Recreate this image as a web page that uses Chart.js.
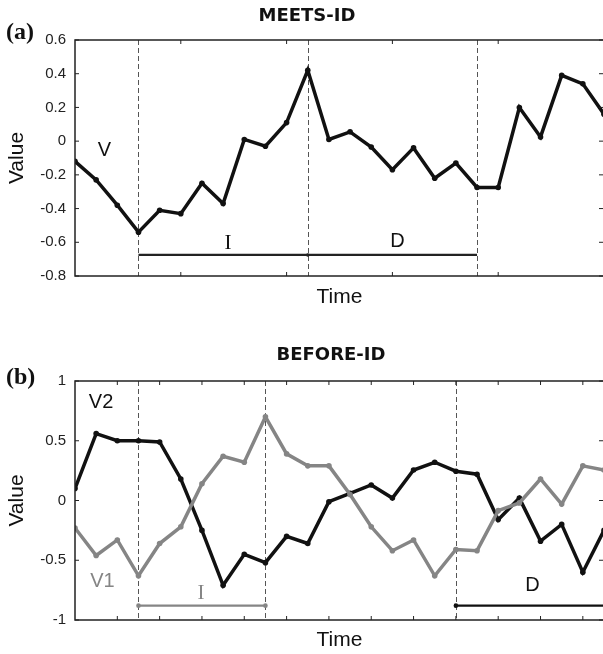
<!DOCTYPE html>
<html>
<head>
<meta charset="utf-8">
<script src="https://cdn.jsdelivr.net/npm/chart.js@4.4.1/dist/chart.umd.min.js"></script>
<style>
  html, body { margin: 0; padding: 0; overflow: hidden; background: #fff; width: 603px; height: 654px; }
  canvas { position: absolute; left: 0; }
  #chartA { top: 0; }
  #chartB { top: 320px; }
</style>
</head>
<body>
<canvas id="chartA" width="608" height="320"></canvas>
<canvas id="chartB" width="608" height="334"></canvas>
<script>
///////////////////////////////
// data
///////////////////////////////
const steps = [0, 1, 2, 3, 4, 5, 6, 7, 8, 9, 10, 11, 12, 13, 14, 15, 16, 17, 18, 19, 20, 21, 22, 23, 24, 25];

// (a) MEETS-ID
const seriesV = [-0.12, -0.23, -0.38, -0.54, -0.41, -0.43, -0.25, -0.37, 0.01, -0.03, 0.11, 0.42, 0.01,
                 0.055, -0.035, -0.17, -0.04, -0.22, -0.13, -0.275, -0.275, 0.20, 0.025, 0.39, 0.34, 0.16];
const cutsA = [3, 11, 19];
const spanIA = [3, 11];
const spanDA = [11, 19];
const spanLevelA = -0.675;
const yTicksA = [-0.8, -0.6, -0.4, -0.2, 0, 0.2, 0.4, 0.6];
const xTicksA = [5, 10, 15, 20];

// (b) BEFORE-ID
const seriesV1 = [-0.23, -0.46, -0.33, -0.63, -0.36, -0.22, 0.14, 0.37, 0.32, 0.70, 0.39, 0.29, 0.29,
                  0.05, -0.22, -0.42, -0.33, -0.63, -0.41, -0.42, -0.085, -0.02, 0.18, -0.03, 0.29, 0.255];
const seriesV2 = [0.10, 0.56, 0.50, 0.50, 0.49, 0.18, -0.25, -0.71, -0.45, -0.52, -0.30, -0.36, -0.01,
                  0.06, 0.13, 0.02, 0.255, 0.32, 0.245, 0.22, -0.16, 0.02, -0.34, -0.20, -0.60, -0.25];
const cutsB = [3, 9, 18];
const spanIB = [3, 9];
const spanDB = [18, 25];
const spanLevelB = -0.88;
const yTicksB = [-1, -0.5, 0, 0.5, 1];
const xTicksB = [2, 4, 6, 8, 10, 12, 14, 16, 18, 20, 22, 24];

const BLACK = '#111';
const GREY = '#858585';

///////////////////////////////
// frame, dashed cuts, labels
///////////////////////////////
const framePlugin = {
    id: 'frame',
    beforeDatasetsDraw(chart, args, opts) {
        const {ctx, chartArea: a, scales: {x}} = chart;
        ctx.save();
        ctx.strokeStyle = '#555';
        ctx.lineWidth = 1;
        ctx.setLineDash([5, 3]);
        opts.cuts.forEach((c) => {
            const px = Math.round(x.getPixelForValue(c)) + 0.5;
            ctx.beginPath();
            ctx.moveTo(px, a.top);
            ctx.lineTo(px, a.bottom);
            ctx.stroke();
        });
        ctx.restore();
    },
    afterDatasetsDraw(chart, args, opts) {
        const {ctx, chartArea: a, scales: {x, y}} = chart;
        ctx.save();
        // box with ticks pointing in
        ctx.strokeStyle = '#222';
        ctx.lineWidth = 1.5;
        ctx.strokeRect(a.left, a.top, a.right - a.left, a.bottom - a.top);
        ctx.lineWidth = 1;
        ctx.beginPath();
        x.ticks.forEach((t) => {
            const px = x.getPixelForValue(t.value);
            ctx.moveTo(px, a.top); ctx.lineTo(px, a.top + 4);
            ctx.moveTo(px, a.bottom); ctx.lineTo(px, a.bottom - 4);
        });
        y.ticks.forEach((t) => {
            const py = y.getPixelForValue(t.value);
            ctx.moveTo(a.left, py); ctx.lineTo(a.left + 4, py);
            ctx.moveTo(a.right, py); ctx.lineTo(a.right - 5, py);
        });
        ctx.stroke();

        // series / interval names
        ctx.textAlign = 'center';
        ctx.textBaseline = 'middle';
        opts.notes.forEach((n) => {
            ctx.font = n.font;
            ctx.fillStyle = n.color;
            ctx.fillText(n.text, x.getPixelForValue(n.x), y.getPixelForValue(n.y));
        });

        // heading and panel letter
        ctx.fillStyle = BLACK;
        ctx.font = 'bold 18px "DejaVu Sans"';
        ctx.fillText(opts.heading, opts.headingX, opts.headingY);
        ctx.textAlign = 'left';
        ctx.font = 'bold 24px "Liberation Serif"';
        ctx.fillText(opts.letter, 6, opts.letterY);
        ctx.restore();
    }
};

function line(xs, ys, color, width, radius) {
    return {
        data: xs.map((s, i) => ({x: s, y: ys[i]})),
        borderColor: color,
        backgroundColor: color,
        borderWidth: width,
        pointRadius: radius,
        pointBorderWidth: 0,
        tension: 0
    };
}

function makeOptions(yMin, yMax, yTicks, xTicks, topPad, timePad, frameOpts) {
    return {
        responsive: false,
        animation: false,
        layout: {padding: {top: topPad, right: 2, left: 0, bottom: 0}},
        plugins: {legend: {display: false}, tooltip: {enabled: false}, frame: frameOpts},
        scales: {
            x: {
                type: 'linear', min: 0, max: 25,
                afterBuildTicks: (s) => { s.ticks = xTicks.map((v) => ({value: v})); },
                ticks: {display: false},
                grid: {display: false, drawTicks: false},
                border: {display: false},
                title: {display: true, text: 'Time', color: BLACK,
                        font: {family: 'Liberation Sans', size: 21}, padding: timePad}
            },
            y: {
                min: yMin, max: yMax,
                afterBuildTicks: (s) => { s.ticks = yTicks.map((v) => ({value: v})); },
                afterFit: (s) => { s.width = 75; },
                ticks: {color: '#222', padding: 9, font: {family: 'Liberation Sans', size: 15},
                        callback: (v) => String(v)},
                grid: {display: false, drawTicks: false},
                border: {display: false},
                title: {display: true, text: 'Value', color: BLACK,
                        font: {family: 'Liberation Sans', size: 21}, padding: {top: 4.4, bottom: 0}}
            }
        }
    };
}

const sans = '20px "Liberation Sans"';
const serif = '21px "Liberation Serif"';

// (a)
new Chart(document.getElementById('chartA'), {
    type: 'line',
    data: {datasets: [
        line(steps, seriesV, BLACK, 3.5, 2.8),
        line(spanIA, [spanLevelA, spanLevelA], '#222', 2.2, 0),
        line(spanDA, [spanLevelA, spanLevelA], '#222', 2.2, [1.8, 0])
    ]},
    options: makeOptions(-0.8, 0.6, yTicksA, xTicksA, 40, {top: 8.4, bottom: 10.4}, {
        cuts: cutsA,
        heading: 'MEETS-ID', headingX: 307, headingY: 16,
        letter: '(a)', letterY: 33,
        notes: [
            {text: 'V', x: 1.39, y: -0.056, font: sans, color: BLACK},
            {text: 'I', x: 7.23, y: -0.608, font: serif, color: BLACK},
            {text: 'D', x: 15.24, y: -0.596, font: sans, color: BLACK}
        ]
    }),
    plugins: [framePlugin]
});

// (b)
new Chart(document.getElementById('chartB'), {
    type: 'line',
    data: {datasets: [
        line(steps, seriesV1, GREY, 3.5, 2.8),
        line(steps, seriesV2, BLACK, 3.5, 2.8),
        line(spanIB, [spanLevelB, spanLevelB], GREY, 2.2, 2.3),
        line(spanDB, [spanLevelB, spanLevelB], BLACK, 2.2, [2.3, 0])
    ]},
    options: makeOptions(-1, 1, yTicksB, xTicksB, 61, {top: 7.4, bottom: 1.4}, {
        cuts: cutsB,
        heading: 'BEFORE-ID', headingX: 331, headingY: 35,
        letter: '(b)', letterY: 58,
        notes: [
            {text: 'V2', x: 1.23, y: 0.82, font: sans, color: BLACK},
            {text: 'V1', x: 1.3, y: -0.678, font: sans, color: GREY},
            {text: 'I', x: 5.95, y: -0.78, font: serif, color: GREY},
            {text: 'D', x: 21.62, y: -0.715, font: sans, color: BLACK}
        ]
    }),
    plugins: [framePlugin]
});
</script>
</body>
</html>
